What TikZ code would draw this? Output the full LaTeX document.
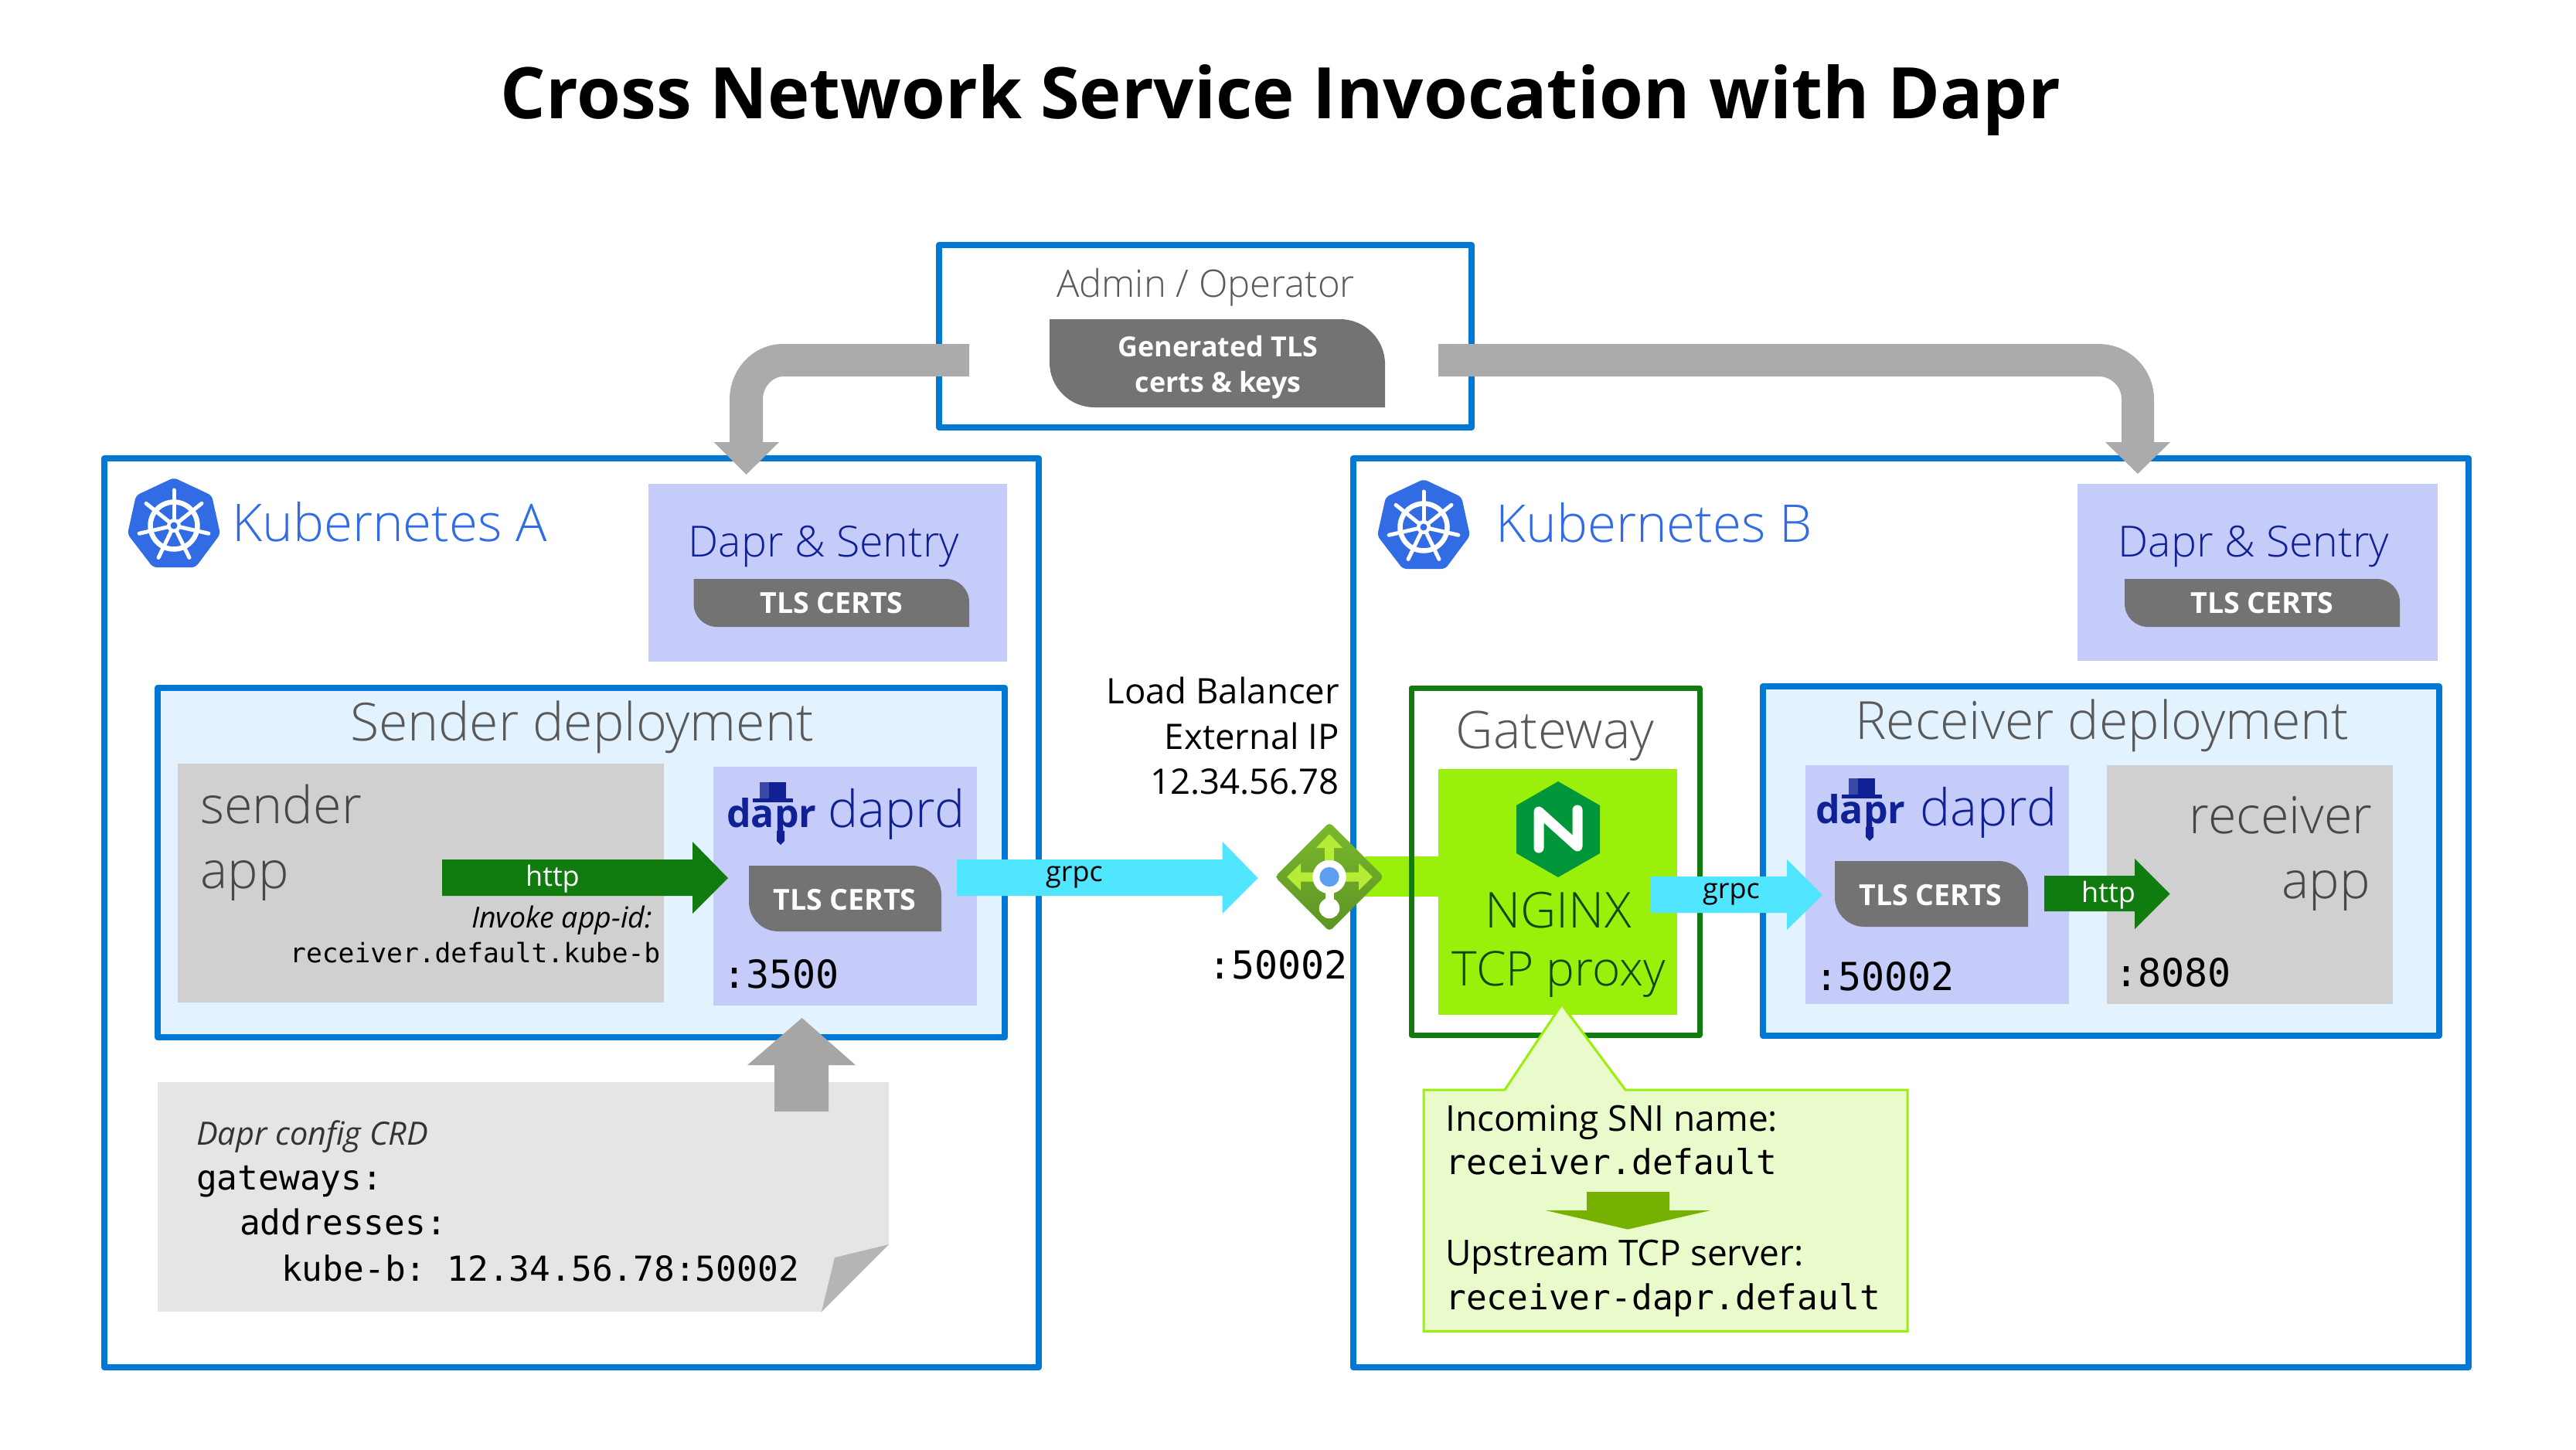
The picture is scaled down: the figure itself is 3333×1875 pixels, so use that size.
\documentclass[tikz,border=0pt]{standalone}
\usepackage{fontspec}
\setmainfont{Open Sans}
\setmonofont{DejaVu Sans Mono}
\newfontfamily\lightf{Open Sans Light}
\newcommand{\fsz}[1]{\fontsize{#1}{#1}\selectfont}
\definecolor{bluel}{HTML}{0078D4}
\definecolor{paleb}{HTML}{E3F2FF}
\definecolor{lav}{HTML}{C5CCF9}
\definecolor{navy}{HTML}{0F2194}
\definecolor{kblue}{HTML}{326CE5}
\definecolor{greyt}{HTML}{595959}
\definecolor{greyb}{HTML}{D0D0D0}
\definecolor{tlsg}{HTML}{737373}
\definecolor{flow}{HTML}{ABABAB}
\definecolor{cyanf}{HTML}{50E6FF}
\definecolor{greenf}{HTML}{107C10}
\definecolor{lime}{HTML}{9BF00B}
\definecolor{palel}{HTML}{E9FBCB}
\definecolor{ngx}{HTML}{009639}
\definecolor{dkg}{HTML}{0B4A0B}
\definecolor{lbtop}{HTML}{7AB92E}
\definecolor{lbbot}{HTML}{5C9323}
\definecolor{lbarr}{HTML}{B4EC36}
\definecolor{lbblue}{HTML}{5EA0EF}
\definecolor{downg}{HTML}{76B000}
\tikzset{
  x=1pt,y=-1pt,
  tc/.style={inner sep=0,anchor=base},
  tl/.style={inner sep=0,anchor=base west},
  tr/.style={inner sep=0,anchor=base east},
  boxb/.style={draw=bluel,line width=8,line join=round,outer sep=0,inner sep=0,anchor=north west},
  tlsf/.style={fill=tlsg},
  tlstext/.style={tc,text=white,font=\bfseries\fsz{37.5}},
  headt/.style={tc,text=greyt,font=\lightf\fsz{68}},
  appt/.style={text=black!72,font=\lightf\fsz{66.5}},
  kubet/.style={tl,text=kblue,font=\lightf\fsz{67.3}},
  sentryt/.style={tc,text=navy,font=\lightf\fsz{55.5}},
  daprdt/.style={tl,text=navy,font=\lightf\fsz{66}},
  monop/.style={text=black,font=\ttfamily\fsz{50}},
  monoc/.style={tl,text=black,font=\ttfamily\fsz{44.5}},
  httpt/.style={tc,text=white,font=\fsz{36}},
  grpct/.style={tc,text=black,font=\fsz{36}},
  bodyt/.style={text=black,font=\fsz{46}},
  lbt/.style={text=black,font=\fsz{45.5}},
}
\newcommand{\tlsshape}[5]{\fill[tlsf] (#1,#2) [rounded corners=#5] -- (#3,#2) [sharp corners] -- (#3,#4) [rounded corners=#5] -- (#1,#4) [sharp corners] -- cycle;}
\newcommand{\kubelogo}[3]{%
  \begin{scope}[shift={(#1,#2)}]
    \fill[kblue,rounded corners=5] (0,-62) -- (49,-39) -- (60,11) -- (28,54) -- (-27,54) -- (-60,11) -- (-49,-39) -- cycle;
    \draw[white,line width=6.5] (0,0) circle[radius=30.5];
    \foreach \a in {90,38.57,-12.86,-64.29,-115.71,-167.14,141.43}
      \draw[white,line width=5,line cap=round] (0,0) -- ({46*cos(\a)},{-46*sin(\a)});
    \fill[white] (0,0) circle[radius=9];
    \fill[kblue] (0,0) circle[radius=4.5];
    \coordinate (#3) at (0,0);
  \end{scope}}
\newcommand{\daprlogo}[3]{%
  \begin{scope}[shift={(#1,#2)}]
    \fill[navy] (43,-58) rectangle (77,-37);
    \fill[navy!82!white] (43,-58) rectangle (55,-37);
    \fill[navy] (34,-37) rectangle (86,-32);
    \fill[navy] (65,5) -- (65,18) -- (70,23) -- (75,18) -- (75,5) -- cycle;
    \node[tl,text=navy,font=\bfseries\fsz{50}] (#3) at (0,0) {dapr};
  \end{scope}}
\begin{document}
\begin{tikzpicture}
\useasboundingbox (0,0) rectangle (3333,1875);
\fill[white] (0,0) rectangle (3333,1875);

% Title
\node[tc,text=black,font=\bfseries\fsz{92}] (title) at (1657,153) {Cross Network Service Invocation with Dapr};

% Admin
\node[boxb,minimum width=689,minimum height=236] (admin) at (1215,317) {};
\node[tc,text=greyt,font=\lightf\fsz{49}] (admint) at (1560,384) {Admin / Operator};
\tlsshape{1358}{413}{1792}{527}{58}
\node[tc,text=white,font=\bfseries\fsz{35.8}] (gent1) at (1576,461) {Generated TLS};
\node[tc,text=white,font=\bfseries\fsz{35.8}] (gent2) at (1576,507) {certs \& keys};

% Kubernetes A
\node[boxb,minimum width=1209,minimum height=1176] (kubea) at (135,593) {};
\kubelogo{225}{680}{logoa}
\node[kubet] (kubeat) at (300,700) {Kubernetes A};
\fill[lav] (838.5,626) rectangle (1303,855.5);
\node[sentryt] (sentrya) at (1066,720) {Dapr \& Sentry};
\tlsshape{897.5}{749}{1254}{811}{30}
\node[tlstext] (tlsa1) at (1076,793) {TLS CERTS};

% Kubernetes B
\node[boxb,minimum width=1443,minimum height=1176] (kubeb) at (1751,593) {};
\kubelogo{1842}{682}{logob}
\node[kubet] (kubebt) at (1935,701) {Kubernetes B};
\fill[lav] (2688,626) rectangle (3154,855);
\node[sentryt] (sentryb) at (2916,720) {Dapr \& Sentry};
\tlsshape{2749}{749}{3105}{811}{30}
\node[tlstext] (tlsb1) at (2927,793) {TLS CERTS};

% Feeds from admin
\fill[flow] (1254,445) -- (1013,445) .. controls (975,445) and (944,477) .. (944,517) -- (944,572) -- (923.5,572) -- (965.6,614) -- (1008,572) -- (987,572) -- (987,517) .. controls (987,499) and (1001,487) .. (1013,487) -- (1254,487) -- cycle;
\fill[flow] (1861,445) -- (2715,445) .. controls (2755,445) and (2787,477) .. (2787,517) -- (2787,572) -- (2808,572) -- (2766,613) -- (2724,572) -- (2745,572) -- (2745,517) .. controls (2745,499) and (2731,487) .. (2715,487) -- (1861,487) -- cycle;

% Sender deployment
\node[boxb,fill=paleb,minimum width=1096,minimum height=452] (sender) at (204,890) {};
\node[headt] (sendert) at (753,958.5) {Sender deployment};
\fill[greyb] (230,988) rectangle (859,1297);
\node[tl,appt] (sapp1) at (259,1065) {sender};
\node[tl,appt] (sapp2) at (259,1149) {app};
\fill[lav] (923,992) rectangle (1263.5,1301);
\daprlogo{940}{1070}{dlogoa}
\node[daprdt] (daprda) at (1071,1070) {daprd};
\tlsshape{969}{1120}{1218}{1205}{38}
\node[tlstext] (tlsa2) at (1093,1177) {TLS CERTS};
\node[tl,monop] (p3500) at (935,1278) {:3500};

% http A
\fill[greenf] (572,1112) -- (896,1112) -- (896,1089) -- (942,1136) -- (896,1182) -- (896,1159) -- (572,1159) -- cycle;
\node[httpt] (httpa) at (715,1146) {http};
\node[tr,text=black,font=\itshape\fsz{37.5}] (invoke) at (844,1200) {Invoke app-id:};
\node[tl,text=black,font=\ttfamily\fsz{34.6}] (recvid) at (375,1245) {receiver.default.kube-b};

% grpc A
\fill[cyanf] (1238,1112) -- (1581.6,1112) -- (1581.6,1089) -- (1627.6,1136) -- (1581.6,1182) -- (1581.6,1159) -- (1238,1159) -- cycle;
\node[grpct] (grpca) at (1390,1140) {grpc};

% Dapr config
\fill[black!10] (204,1400) -- (1150,1400) -- (1150,1610) -- (1063,1697) -- (204,1697) -- cycle;
\fill[black!29] (1150,1610) -- (1080,1627) -- (1063,1697) -- cycle;
\fill[black!35] (1002,1438) -- (1002,1378) -- (967,1378) -- (1037.6,1317) -- (1107,1378) -- (1072,1378) -- (1072,1438) -- cycle;
\node[tl,text=black!80,font=\itshape\fsz{41.5}] (crd) at (254,1481) {Dapr config CRD};
\node[monoc] (gw) at (254,1539) {gateways:};
\node[monoc] (addr) at (310,1597) {addresses:};
\node[monoc] (kubeaddr) at (364,1657) {kube-b: 12.34.56.78:50002};

% Load balancer
\node[tr,lbt] (lb1) at (1733,910) {Load Balancer};
\node[tr,lbt] (lb2) at (1733,969) {External IP};
\node[tr,lbt] (lb3) at (1733,1027) {12.34.56.78};
\fill[lime] (1766,1108) rectangle (1870,1160);
\begin{scope}[shift={(1720,1134.5)}]
  \shade[top color=lbtop,bottom color=lbbot,rounded corners=5] (0,-70.5) -- (70.5,0) -- (0,70.5) -- (-70.5,0) -- cycle;
  \fill[lbarr] (-6,0) -- (-6,-37.5) -- (-17,-37.5) -- (0,-55.5) -- (17,-37.5) -- (6,-37.5) -- (6,-6) -- (38,-6) -- (38,-17.5) -- (56,0) -- (38,17.5) -- (38,6) -- (-37,6) -- (-37,17.5) -- (-55,0) -- (-37,-17.5) -- (-37,-6) -- (-6,-6) -- cycle;
  \fill[white] (-5.5,0) rectangle (5.5,40);
  \fill[white] (0,0) circle[radius=21.7];
  \fill[white] (0,40.5) circle[radius=13.3];
  \fill[lbblue] (0,0) circle[radius=12.7];
\end{scope}
\node[tl,monop] (p50002a) at (1563,1266) {:50002};

% Gateway
\node[draw=greenf,line width=7,line join=round,outer sep=0,minimum width=373,minimum height=449,inner sep=0,anchor=north west] (gateway) at (1826,890) {};
\node[headt,font=\lightf\fsz{67}] (gatewayt) at (2012,968) {Gateway};
\fill[lime] (1861,995) rectangle (2170,1313);
\fill[ngx] (2016,1011) -- (2070,1042) -- (2070,1104) -- (2016,1135) -- (1962,1104) -- (1962,1042) -- cycle;
\draw[white,line width=13,line cap=round,line join=round] (1991,1097) -- (1991,1050) -- (2041,1095) -- (2041,1048);
\node[tc,text=dkg,font=\lightf\fsz{64}] (ngx1) at (2016,1200) {NGINX};
\node[tc,text=dkg,font=\lightf\fsz{62}] (ngx2) at (2017,1275) {TCP proxy};

% Callout
\draw[draw=lime,fill=palel,line width=3] (1842,1410) -- (1947,1410) -- (2020.6,1299.5) -- (2103,1410) -- (2468,1410) -- (2468,1722.6) -- (1842,1722.6) -- cycle;
\node[tl,bodyt] (sni) at (1870,1463) {Incoming SNI name:};
\node[monoc] (sni2) at (1870,1519) {receiver.default};
\fill[downg] (2053,1542) -- (2160,1542) -- (2160,1566) -- (2213,1566) -- (2106,1590.5) -- (2000,1566) -- (2053,1566) -- cycle;
\node[tl,bodyt] (up) at (1870,1637.6) {Upstream TCP server:};
\node[monoc] (up2) at (1870,1694) {receiver-dapr.default};

% Receiver deployment
\node[boxb,fill=paleb,minimum width=875,minimum height=452] (receiver) at (2281,888) {};
\node[headt] (receivert) at (2720,956) {Receiver deployment};
\fill[lav] (2336,990) rectangle (2677,1299);
\daprlogo{2349}{1065}{dlogob}
\node[daprdt] (daprdb) at (2484,1068) {daprd};
\tlsshape{2374}{1114}{2624}{1199}{38}
\node[tlstext] (tlsb2) at (2498,1171) {TLS CERTS};
\node[tl,monop] (p50002b) at (2348,1281) {:50002};
\fill[greyb] (2726,990) rectangle (3096,1299);
\node[tr,appt] (rapp1) at (3070,1078) {receiver};
\node[tr,appt] (rapp2) at (3067,1162) {app};
\node[tl,monop] (p8080) at (2736,1276) {:8080};

% grpc B
\fill[cyanf] (2136,1134) -- (2312,1134) -- (2312,1112) -- (2358,1158) -- (2312,1203) -- (2312,1181) -- (2136,1181) -- cycle;
\node[grpct] (grpcb) at (2240,1162) {grpc};

% http B
\fill[greenf] (2645,1133) -- (2762,1133) -- (2762,1111) -- (2807.6,1156.5) -- (2762,1202) -- (2762,1179) -- (2645,1179) -- cycle;
\node[httpt] (httpb) at (2728,1167) {http};
\end{tikzpicture}
\end{document}
